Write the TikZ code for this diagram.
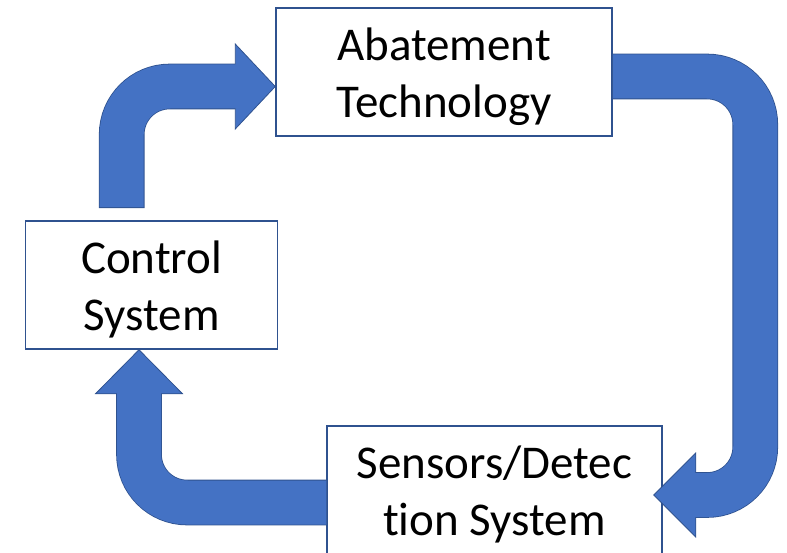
\documentclass[tikz,border=0pt]{standalone}
\usepackage{fontspec}
\setmainfont{Carlito}[Ligatures=CommonOff]
\definecolor{flowblue}{HTML}{4472C4}
\definecolor{flowedge}{HTML}{2F528F}

\begin{document}
\begin{tikzpicture}[x=1bp, y=-1bp,
    every node/.style={font=\fontsize{47bp}{57bp}\selectfont, align=center},
    block/.style={draw=flowedge, line width=1.5bp, fill=white, minimum height=128bp,
        inner sep=0pt, text height=99bp},
    pipe/.style={draw=flowblue, line width=44bp, rounded corners=48bp,
        preaction={draw=flowedge, line width=45.6bp, shorten <=-0.8bp, shorten >=2bp}},
    head/.style={fill=flowblue, draw=flowedge, line width=0.8bp, line join=miter}]

    \useasboundingbox (0,0) rectangle (787,553);

    % The three stages of the loop
    \node[block, minimum width=336bp] (abate) at (444,72) {Abatement\\Technology};
    \node[block, minimum width=252bp] (ctrl) at (151.7,285) {Control\\System};
    \node[block, minimum width=335bp] (sens) at (494.5,490) {Sensors/Detec\\tion System};

    % Control system up and over into the abatement box
    \coordinate (ctrlout) at ([shift={(-30,-13)}]ctrl.north);
    \coordinate (abatein) at ([shift={(0,14.5)}]abate.west);
    \filldraw[head] (abatein) -- ++(-40,-42.5) -- ++(0,85) -- cycle;
    \draw[pipe] (ctrlout) |- ([shift={(-38,0)}]abatein);

    % Abatement round the right side down to the sensors
    \coordinate (abateout) at ([shift={(0,4.5)}]abate.east);
    \coordinate (sensin) at ([shift={(-9,5)}]sens.east);
    \filldraw[head] (sensin) -- ++(42,-42) -- ++(0,84) -- cycle;
    \draw[pipe] (abateout) -| ([shift={(101.5,0)}]sensin) -- ([shift={(40,0)}]sensin);

    % Sensors back to the control system
    \coordinate (sensout) at ([shift={(0,12.5)}]sens.west);
    \coordinate (ctrlin) at ([shift={(-12.7,0)}]ctrl.south);
    \filldraw[head] (ctrlin) -- ++(-43.5,44) -- ++(87,0) -- cycle;
    \draw[pipe] (sensout) -| ([shift={(0,42)}]ctrlin);

\end{tikzpicture}
\end{document}
